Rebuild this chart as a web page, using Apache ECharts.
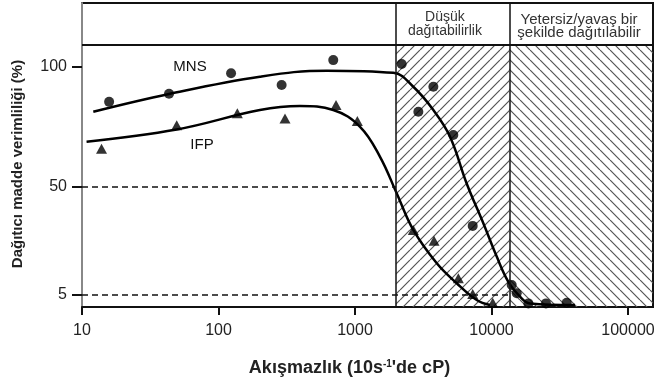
<!DOCTYPE html>
<html>
<head>
<meta charset="utf-8">
<script src="https://cdn.jsdelivr.net/npm/echarts@6/dist/echarts.min.js"></script>
<style>
html,body{margin:0;padding:0;background:#fff;}
#c{width:654px;height:387px;}
</style>
</head>
<body>
<div id="c"></div>
<script>
// ---- data ----
const mnsX = [15.8, 43.4, 123.6, 290, 693, 2197, 2911, 3750, 5248, 7280, 14060, 15300, 18620, 25060, 35560];
const mnsY = [85.5, 88.9, 97.4, 92.5, 102.9, 101.3, 81.4, 91.8, 71.7, 33.8, 9.2, 5.7, 1.5, 1.5, 1.8];
const ifpX = [13.9, 49.4, 137.4, 307, 726, 1040, 2673, 3793, 5715, 7280, 10210];
const ifpY = [66.0, 75.8, 80.7, 78.6, 84.2, 77.5, 32.1, 27.6, 12.0, 5.4, 1.8];
const mnsFitX = [12.1, 43.4, 201, 621, 1910, 2673, 3750, 4966, 6577, 8710, 10920, 13280, 16180, 19140, 40900];
const mnsFitY = [81.4, 88.8, 96.0, 98.5, 97.6, 91.8, 82.1, 71.0, 51.5, 34.9, 21.0, 10.5, 4.3, 1.5, 0.8];
const ifpFitX = [10.8, 49.4, 201, 395, 693, 1089, 1525, 2019, 2673, 3972, 5562, 7798, 9750];
const ifpFitY = [68.9, 74.0, 82.1, 83.75, 82.1, 75.1, 62.6, 47.4, 32.1, 18.2, 9.9, 2.9, 0.8];
const xTicks = [10, 100, 1000, 10000, 100000];
const yTicks = [5, 50, 100];
const xRange = [10, 152400];
const yRange = [0, 126.7];
const zoneEdges = [2000, 13500];
const headerLevel = 109.2;
const dashLevels = [50, 5];
const dashEnds = [2000, 13500];
const zoneTitles = ['Düşük\ndağıtabilirlik', 'Yetersiz/yavaş bir\nşekilde dağıtılabilir'];
const zoneTitleAt = [[4560, 117.9], [43750, 117.1]];
const seriesNames = ['MNS', 'IFP'];
const seriesNameAt = [[61.8, 100], [75.7, 67.5]];
const xName = "Akışmazlık (10s{sup|-1}'de cP)";
const yName = 'Dağıtıcı madde verimliliği (%)';

const FONT = 'Liberation Sans, Arial, Helvetica, sans-serif';

function hatch(dir) {
  const s = 10;
  const cv = document.createElement('canvas');
  cv.width = s; cv.height = s;
  const ctx = cv.getContext('2d');
  ctx.strokeStyle = '#555';
  ctx.lineWidth = 1.2;
  ctx.beginPath();
  for (const k of [-s, 0, s]) {
    if (dir === '/') { ctx.moveTo(k, s); ctx.lineTo(k + s, 0); }
    else { ctx.moveTo(k, 0); ctx.lineTo(k + s, s); }
  }
  ctx.stroke();
  return { image: cv, repeat: 'repeat' };
}

const zip = (a, b) => a.map((v, i) => [v, b[i]]);

const chart = echarts.init(document.getElementById('c'), null, { renderer: 'canvas' });
chart.setOption({
  animation: false,
  textStyle: { fontFamily: FONT },
  grid: { left: 82, right: 1, top: 3, bottom: 80, show: true, borderColor: '#111', borderWidth: 2, containLabel: false, outerBoundsMode: 'none' },
  xAxis: {
    type: 'log', logBase: 10, min: xRange[0], max: xRange[1],
    axisLine: { lineStyle: { color: '#111', width: 2 } },
    axisTick: { show: true, length: 8, lineStyle: { color: '#111', width: 2 }, customValues: xTicks },
    axisLabel: { customValues: xTicks, fontSize: 16, color: '#222', margin: 16, fontFamily: FONT,
      formatter: v => String(Math.round(v)) },
    splitLine: { show: false },
    name: xName, nameLocation: 'middle', nameGap: 52,
    nameTextStyle: { fontSize: 18, fontWeight: 'bold', color: '#222', fontFamily: FONT, padding: [0, 36, 0, 0],
      rich: { sup: { fontSize: 10, fontWeight: 'bold', color: '#222', verticalAlign: 'top', fontFamily: FONT } } }
  },
  yAxis: {
    type: 'value', min: yRange[0], max: yRange[1],
    axisLine: { show: true, lineStyle: { color: '#888', width: 2 } },
    axisTick: { show: true, length: 10, customValues: yTicks, lineStyle: { color: '#111', width: 2 } },
    axisLabel: { customValues: yTicks, fontSize: 16, color: '#222', margin: 15, fontFamily: FONT },
    splitLine: { show: false },
    name: yName, nameLocation: 'middle', nameGap: 57,
    nameTextStyle: { fontSize: 15, fontWeight: 'bold', color: '#222', fontFamily: FONT, padding: [0, 18, 0, 0] }
  },
  series: [
    {
      name: 'zones', type: 'line', data: [], z: 1, silent: true,
      markArea: {
        silent: true,
        label: { show: false },
        data: [
          [{ coord: [zoneEdges[0], yRange[0]], itemStyle: { color: hatch('/') } }, { coord: [zoneEdges[1], headerLevel] }],
          [{ coord: [zoneEdges[1], yRange[0]], itemStyle: { color: hatch('\\') } }, { coord: [xRange[1], headerLevel] }]
        ]
      },
      markLine: {
        silent: true, symbol: 'none', label: { show: false },
        data: [
          { xAxis: zoneEdges[0], lineStyle: { color: '#111', width: 1.5, type: 'solid' } },
          { xAxis: zoneEdges[1], lineStyle: { color: '#111', width: 1.5, type: 'solid' } },
          { yAxis: headerLevel, lineStyle: { color: '#111', width: 2, type: 'solid' } },
          [{ coord: [xRange[0], dashLevels[0]], lineStyle: { color: '#111', width: 1.5, type: [6, 4] } }, { coord: [dashEnds[0], dashLevels[0]] }],
          [{ coord: [xRange[0], dashLevels[1]], lineStyle: { color: '#111', width: 1.5, type: [6, 4] } }, { coord: [dashEnds[1], dashLevels[1]] }]
        ]
      },
      markPoint: {
        silent: true, symbol: 'rect', symbolSize: 0,
        data: [
          { name: zoneTitles[0], coord: zoneTitleAt[0], label: { show: true, position: 'inside', formatter: '{b}', fontSize: 14, lineHeight: 14, color: '#333', fontFamily: FONT, align: 'center' } },
          { name: zoneTitles[1], coord: zoneTitleAt[1], label: { show: true, position: 'inside', formatter: '{b}', fontSize: 15, lineHeight: 13, color: '#333', fontFamily: FONT, align: 'center' } },
          { name: seriesNames[0], coord: seriesNameAt[0], label: { show: true, position: 'inside', formatter: '{b}', fontSize: 15, color: '#111', fontFamily: FONT } },
          { name: seriesNames[1], coord: seriesNameAt[1], label: { show: true, position: 'inside', formatter: '{b}', fontSize: 15, color: '#111', fontFamily: FONT } }
        ]
      }
    },
    {
      name: 'MNS eğri', type: 'line', z: 3, smooth: 0.4, showSymbol: false, silent: true,
      data: zip(mnsFitX, mnsFitY), lineStyle: { color: '#000', width: 2.5 }
    },
    {
      name: 'IFP eğri', type: 'line', z: 3, smooth: 0.4, showSymbol: false, silent: true,
      data: zip(ifpFitX, ifpFitY), lineStyle: { color: '#000', width: 2.5 }
    },
    {
      name: 'MNS', type: 'scatter', z: 4, symbol: 'circle', symbolSize: 10,
      data: zip(mnsX, mnsY), itemStyle: { color: '#000' }
    },
    {
      name: 'IFP', type: 'scatter', z: 4, symbol: 'triangle', symbolSize: [11, 10],
      data: zip(ifpX, ifpY), itemStyle: { color: '#000' }
    }
  ]
});
</script>
</body>
</html>
